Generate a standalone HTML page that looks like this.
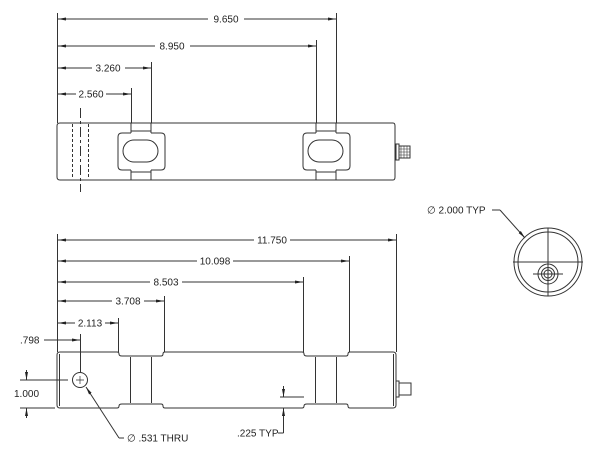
<!DOCTYPE html>
<html><head><style>
html,body{margin:0;padding:0;background:#fff;}
svg{display:block;}
text{font-family:"Liberation Sans",sans-serif;font-size:10px;fill:#222;}
</style></head><body>
<svg width="604" height="455" viewBox="0 0 604 455" stroke="#333" stroke-width="1" fill="none">
<defs>
<marker id="a" markerWidth="8" markerHeight="6" refX="8" refY="3" orient="auto-start-reverse" markerUnits="userSpaceOnUse"><path d="M0,1.5 L8,3 L0,4.5Z" fill="#222" stroke="none"/></marker>
</defs>
<!-- TOP VIEW dims -->
<line x1="57.5" y1="13" x2="57.5" y2="123"/>
<line x1="336.5" y1="13" x2="336.5" y2="123"/>
<line x1="316.5" y1="40" x2="316.5" y2="123"/>
<line x1="151.5" y1="62" x2="151.5" y2="123"/>
<line x1="131.5" y1="88" x2="131.5" y2="123"/>
<line x1="58" y1="19" x2="208" y2="19" marker-start="url(#a)"/><line x1="244" y1="19" x2="336" y2="19" marker-end="url(#a)"/>
<text x="226" y="22.5" text-anchor="middle" stroke="none">9.650</text>
<line x1="58" y1="46" x2="155" y2="46" marker-start="url(#a)"/><line x1="190" y1="46" x2="316" y2="46" marker-end="url(#a)"/>
<text x="172" y="49.5" text-anchor="middle" stroke="none">8.950</text>
<line x1="58" y1="68" x2="92" y2="68" marker-start="url(#a)"/><line x1="125" y1="68" x2="151" y2="68" marker-end="url(#a)"/>
<text x="108" y="71.5" text-anchor="middle" stroke="none">3.260</text>
<line x1="58" y1="94" x2="76" y2="94" marker-start="url(#a)"/><line x1="106" y1="94" x2="131" y2="94" marker-end="url(#a)"/>
<text x="91" y="97.5" text-anchor="middle" stroke="none">2.560</text>
<!-- TOP VIEW body -->
<path d="M60,123 H393 Q395,123 395,126 V177 Q395,180 393,180 H60 Q57,180 57,177 V126 Q57,123 60,123Z"/>
<line x1="72.5" y1="124" x2="72.5" y2="179" stroke-dasharray="3,2"/>
<line x1="88.5" y1="124" x2="88.5" y2="179" stroke-dasharray="3,2"/>
<line x1="80.5" y1="108" x2="80.5" y2="192" stroke-dasharray="10,3,3,3"/>
<g>
<path d="M131,133 H122 Q118,133 118,137 V166 Q118,170 122,170 H131 M151,133 H161 Q165,133 165,137 V166 Q165,170 161,170 H151"/>
<path d="M131,123 V133 M151,123 V133 M131,170 V180 M151,170 V180 M131,131 H151 M131,172 H151"/>
<rect x="123" y="140" width="35" height="22" rx="11"/>
</g>
<g transform="translate(185,0)">
<path d="M131,133 H122 Q118,133 118,137 V166 Q118,170 122,170 H131 M151,133 H161 Q165,133 165,137 V166 Q165,170 161,170 H151"/>
<path d="M131,123 V133 M151,123 V133 M131,170 V180 M151,170 V180 M131,131 H151 M131,172 H151"/>
<rect x="123" y="140" width="35" height="22" rx="11"/>
</g>
<rect x="396" y="144" width="3" height="16"/>
<rect x="399" y="146" width="11" height="12"/>
<path d="M401,146 V158 M404,146 V158 M407,146 V158 M399,149 H410 M399,152 H410 M399,155 H410" stroke-width="0.6"/>
<!-- BOTTOM VIEW dims -->
<line x1="57.5" y1="234" x2="57.5" y2="352"/>
<line x1="396.5" y1="234" x2="396.5" y2="352"/>
<line x1="349.5" y1="256" x2="349.5" y2="352"/>
<line x1="303.5" y1="277" x2="303.5" y2="352"/>
<line x1="164.5" y1="296" x2="164.5" y2="352"/>
<line x1="118.5" y1="318" x2="118.5" y2="352"/>
<line x1="58" y1="240" x2="254" y2="240" marker-start="url(#a)"/><line x1="290" y1="240" x2="396" y2="240" marker-end="url(#a)"/>
<text x="272" y="243.5" text-anchor="middle" stroke="none">11.750</text>
<line x1="58" y1="261" x2="197" y2="261" marker-start="url(#a)"/><line x1="233" y1="261" x2="349" y2="261" marker-end="url(#a)"/>
<text x="215" y="264.5" text-anchor="middle" stroke="none">10.098</text>
<line x1="58" y1="282" x2="150" y2="282" marker-start="url(#a)"/><line x1="182" y1="282" x2="303" y2="282" marker-end="url(#a)"/>
<text x="166" y="285.5" text-anchor="middle" stroke="none">8.503</text>
<line x1="58" y1="301" x2="112" y2="301" marker-start="url(#a)"/><line x1="144" y1="301" x2="164" y2="301" marker-end="url(#a)"/>
<text x="128" y="304.5" text-anchor="middle" stroke="none">3.708</text>
<line x1="58" y1="323" x2="75" y2="323" marker-start="url(#a)"/><line x1="105" y1="323" x2="118" y2="323" marker-end="url(#a)"/>
<text x="90" y="326.5" text-anchor="middle" stroke="none">2.113</text>
<line x1="44" y1="340" x2="80" y2="340" marker-end="url(#a)"/>
<line x1="57.5" y1="334" x2="57.5" y2="352"/>
<line x1="80.5" y1="334" x2="80.5" y2="372"/>
<text x="20" y="343.5" stroke="none">.798</text>
<!-- BOTTOM VIEW body -->
<path d="M60,352 H117 Q119,352 119,354 Q119,356 122,356 H161 Q163,356 163,354 Q163,352 165,352 H302 Q304,352 304,354 Q304,356 307,356 H346 Q348,356 348,354 Q348,352 350,352 H393 Q396,352 396,355 V405 Q396,408 393,408 H350 Q348,408 348,406 Q348,404 346,404 H307 Q304,404 304,406 Q304,408 302,408 H165 Q163,408 163,406 Q163,404 161,404 H122 Q119,404 119,406 Q119,408 117,408 H60 Q57,408 57,405 V355 Q57,352 60,352Z"/>
<line x1="59.5" y1="354" x2="59.5" y2="406"/>
<line x1="393.5" y1="354" x2="393.5" y2="406"/>
<line x1="130.5" y1="357" x2="130.5" y2="403"/><line x1="151.5" y1="357" x2="151.5" y2="403"/>
<line x1="315.5" y1="357" x2="315.5" y2="403"/><line x1="336.5" y1="357" x2="336.5" y2="403"/>
<rect x="396" y="381" width="3" height="16"/>
<rect x="399" y="383" width="12" height="12"/>
<circle cx="80" cy="380" r="7.5"/>
<path d="M76,380 H84 M80,376 V384" stroke-width="0.7"/>
<line x1="20" y1="380" x2="68" y2="380"/>
<line x1="20" y1="408" x2="55" y2="408"/>
<line x1="26.5" y1="370" x2="26.5" y2="380" marker-end="url(#a)"/>
<line x1="26.5" y1="418" x2="26.5" y2="408" marker-end="url(#a)"/>
<text x="14" y="397" stroke="none">1.000</text>
<line x1="119" y1="438" x2="86" y2="387" marker-end="url(#a)"/>
<line x1="119" y1="438" x2="124" y2="438"/>
<text x="127" y="441.5" stroke="none">∅ .531 THRU</text>
<line x1="283.5" y1="386" x2="283.5" y2="397" marker-end="url(#a)"/>
<line x1="283.5" y1="433" x2="283.5" y2="408" marker-end="url(#a)"/>
<line x1="278" y1="433" x2="283.5" y2="433"/>
<line x1="280" y1="397" x2="304" y2="397"/>
<text x="237" y="436.5" stroke="none">.225 TYP</text>
<!-- END VIEW -->
<text x="427" y="213.5" stroke="none">∅ 2.000 TYP</text>
<line x1="492" y1="210" x2="500" y2="210"/>
<line x1="500" y1="210" x2="525" y2="238" marker-end="url(#a)"/>
<circle cx="548" cy="262" r="34"/>
<circle cx="548" cy="262" r="30"/>
<line x1="513" y1="262" x2="583" y2="262"/>
<line x1="548" y1="228" x2="548" y2="296"/>
<circle cx="548" cy="274" r="10"/>
<circle cx="548" cy="274" r="6.5"/>
<circle cx="548" cy="274" r="4"/>
<line x1="533" y1="274" x2="563" y2="274"/>
</svg>
</body></html>
